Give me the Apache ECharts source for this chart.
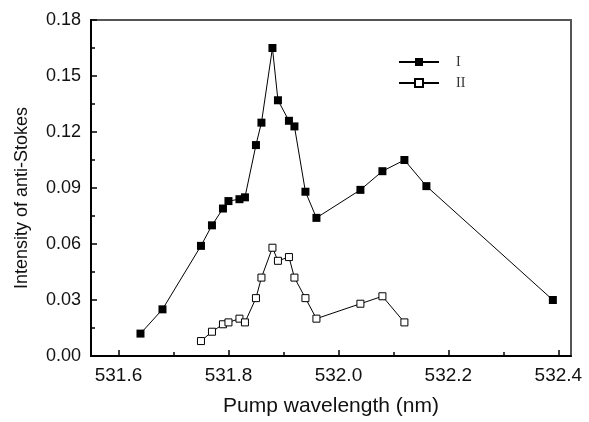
<!DOCTYPE html>
<html>
<head>
<meta charset="utf-8">
<script src="https://cdn.jsdelivr.net/npm/echarts@6/dist/echarts.min.js"></script>
<style>
  html, body { margin: 0; padding: 0; background: #fff; }
  #main { width: 589px; height: 422px; }
</style>
</head>
<body>
<div id="main"></div>
<script>
// 数据
const wlI = [531.64, 531.68, 531.75, 531.77, 531.79, 531.80, 531.82, 531.83, 531.85, 531.86,
             531.88, 531.89, 531.91, 531.92, 531.94, 531.96, 532.04, 532.08, 532.12, 532.16, 532.39];
const valI = [0.012, 0.025, 0.059, 0.070, 0.079, 0.083, 0.084, 0.085, 0.113, 0.125,
              0.165, 0.137, 0.126, 0.123, 0.088, 0.074, 0.089, 0.099, 0.105, 0.091, 0.030];

const wlII = [531.75, 531.77, 531.79, 531.80, 531.82, 531.83, 531.85, 531.86, 531.88, 531.89,
              531.91, 531.92, 531.94, 531.96, 532.04, 532.08, 532.12];
const valII = [0.008, 0.013, 0.017, 0.018, 0.020, 0.018, 0.031, 0.042, 0.058, 0.051,
               0.053, 0.042, 0.031, 0.020, 0.028, 0.032, 0.018];

const xMajor = [531.6, 531.8, 532.0, 532.2, 532.4];
const xMinor = [531.7, 531.9, 532.1, 532.3];
const seriesNames = ['I', 'II'];

const chart = echarts.init(document.getElementById('main'));

function pairs(xs, ys) {
    return xs.map((x, i) => [x, ys[i]]);
}

const font = 'Liberation Sans';

var option = {
    backgroundColor: '#ffffff',
    animation: false,
    grid: {
        left: 91, right: 18, top: 20, bottom: 65,
        show: true,
        borderColor: '#555',
        borderWidth: 2
    },
    // y轴标题, 比中心略低
    graphic: [{
        type: 'text',
        x: 22,
        y: 198,
        rotation: Math.PI / 2,
        style: {
            text: 'Intensity of anti-Stokes',
            fontFamily: font,
            fontSize: 18,
            fill: '#111',
            align: 'center',
            verticalAlign: 'middle'
        }
    }],
    legend: {
        left: 393,
        top: 50,
        orient: 'vertical',
        itemWidth: 40,
        itemHeight: 10,
        itemGap: 7,
        data: seriesNames,
        textStyle: {
            fontFamily: 'Liberation Serif',
            fontSize: 14,
            color: '#333',
            padding: [0, 0, 0, 12]
        }
    },
    xAxis: [{
        type: 'value',
        min: 531.55,
        max: 532.423,
        name: 'Pump wavelength (nm)',
        nameLocation: 'middle',
        nameGap: 40,
        nameTextStyle: { fontFamily: font, fontSize: 21, color: '#111' },
        splitLine: { show: false },
        axisLine: { lineStyle: { color: '#000', width: 2 } },
        axisTick: { inside: true, length: 6, customValues: xMajor, lineStyle: { color: '#000', width: 1.5 } },
        axisLabel: {
            customValues: xMajor,
            margin: 10,
            fontFamily: font, fontSize: 19, color: '#111',
            formatter: v => v.toFixed(1)
        }
    }, {
        type: 'value',
        min: 531.55,
        max: 532.423,
        position: 'bottom',
        splitLine: { show: false },
        axisLine: { show: false },
        axisTick: { inside: true, length: 4, customValues: xMinor, lineStyle: { color: '#000', width: 1.5 } },
        axisLabel: { show: false }
    }],
    yAxis: {
        type: 'value',
        min: 0,
        max: 0.18,
        interval: 0.03,
        splitLine: { show: false },
        axisLine: { lineStyle: { color: '#000', width: 2 } },
        axisTick: { inside: true, length: 6, lineStyle: { color: '#000', width: 1.5 } },
        minorTick: { show: true, splitNumber: 2, length: 4, lineStyle: { color: '#000', width: 1.5 } },
        axisLabel: {
            margin: 10,
            fontFamily: font, fontSize: 18, color: '#111',
            formatter: v => v.toFixed(2)
        }
    },
    series: [{
        name: seriesNames[0],
        type: 'line',
        data: pairs(wlI, valI),
        symbol: 'rect',
        symbolSize: 8,
        lineStyle: { color: '#000', width: 1 },
        itemStyle: { color: '#000', borderColor: '#000', borderWidth: 0 }
    }, {
        name: seriesNames[1],
        type: 'line',
        data: pairs(wlII, valII),
        symbol: 'rect',
        symbolSize: 7,
        lineStyle: { color: '#000', width: 1 },
        itemStyle: { color: '#fff', borderColor: '#000', borderWidth: 1 }
    }]
};

chart.setOption(option);
</script>
</body>
</html>
